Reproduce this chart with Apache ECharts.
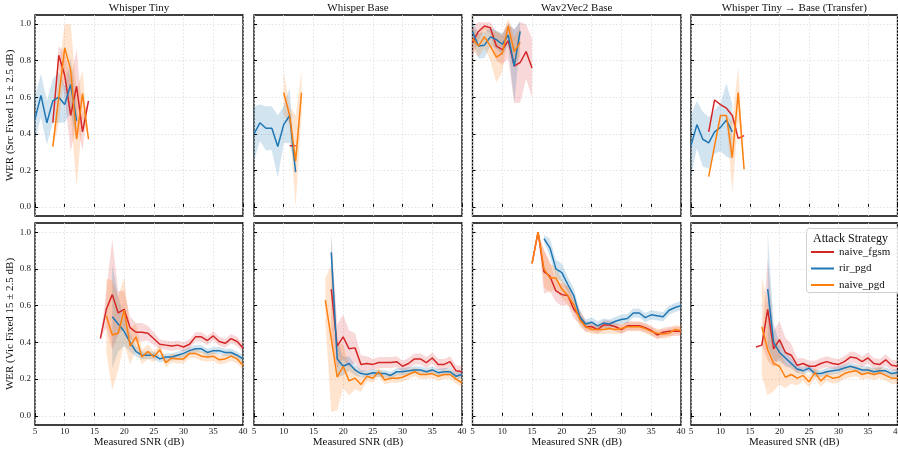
<!DOCTYPE html>
<html><head><meta charset="utf-8">
<script src="https://cdn.jsdelivr.net/npm/echarts@6/dist/echarts.min.js"></script>
<style>html,body{margin:0;padding:0;background:#fff}#c{width:898px;height:450px}</style>
</head><body><div id="c"></div><script>
const FONT = "'Liberation Serif','DejaVu Serif',serif";
const panelTitles = ['Whisper Tiny', 'Whisper Base', 'Wav2Vec2 Base', 'Whisper Tiny \u2192 Base (Transfer)'];
const rowLabels = ['WER (Src Fixed 15 \u00b1 2.5 dB)', 'WER (Vic Fixed 15 \u00b1 2.5 dB)'];
const xAxisTitle = 'Measured SNR (dB)';
const legendTitle = 'Attack Strategy';
const strategies = ['naive_fgsm', 'rir_pgd', 'naive_pgd'];
const colors = ['#d62728', '#1f77b4', '#ff7f0e'];
const yTicks = [0, 0.2, 0.4, 0.6, 0.8, 1.0];
const N = null;

// SNR grid for top row (source fixed) and bottom row (victim fixed)
const snrSrc = [5, 6, 7, 8, 9, 10, 11, 12, 13, 14, 15];
const snrVic = [15, 16, 17, 18, 19, 20, 21, 22, 23, 24, 25, 26, 27, 28, 29, 30, 31, 32, 33, 34, 35, 36, 37, 38, 39, 40];

// ---- Top row: Src fixed ----
// Whisper Tiny
const tinySrcFgsm = [N, N, N, 0.46, 0.83, 0.72, 0.50, 0.66, 0.41, 0.58, N];
const tinySrcFgsmErr = [N, N, N, 0, 0.05, 0.12, 0.2, 0.2, 0.1, 0, N];
const tinySrcRir = [0.48, 0.61, 0.46, 0.58, 0.60, 0.56, 0.67, 0.47, N, N, N];
const tinySrcRirErr = [0.12, 0.12, 0.12, 0.12, 0.14, 0.1, 0.15, 0.1, N, N, N];
const tinySrcPgd = [N, N, N, 0.33, 0.60, 0.87, 0.75, 0.37, 0.62, 0.37, N];
const tinySrcPgdErr = [N, N, N, 0, 0.15, 0.13, 0.25, 0.26, 0.13, 0, N];
// Whisper Base
const baseSrcFgsm = [N, N, N, N, N, N, 0.335, 0.335, N, N, N];
const baseSrcFgsmErr = [N, N, N, N, N, N, 0, 0, N, N, N];
const baseSrcRir = [0.40, 0.46, 0.43, 0.43, 0.33, 0.45, 0.50, 0.19, N, N, N];
const baseSrcRirErr = [0.15, 0.1, 0.12, 0.12, 0.17, 0.1, 0.15, 0, N, N, N];
const baseSrcPgd = [N, N, N, N, N, 0.625, 0.50, 0.25, 0.625, N, N];
const baseSrcPgdErr = [N, N, N, N, N, 0.12, 0.05, 0.25, 0.12, N, N];
// Wav2Vec2 Base
const w2vSrcFgsm = [0.90, 0.96, 0.99, 0.98, 0.88, 0.86, 0.91, 0.77, 0.79, 0.85, 0.76];
const w2vSrcFgsmErr = [0.08, 0.05, 0.02, 0.03, 0.08, 0.08, 0.1, 0.2, 0.22, 0.15, 0.16];
const w2vSrcRir = [0.96, 0.88, 0.885, 0.93, 0.915, 0.89, 0.94, 0.77, 0.96, N, N];
const w2vSrcRirErr = [0.05, 0.07, 0.07, 0.05, 0.05, 0.06, 0.06, 0.2, 0.06, N, N];
const w2vSrcPgd = [0.92, 0.88, 0.93, 0.88, 0.82, 0.84, 0.99, 0.85, 0.90, N, N];
const w2vSrcPgdErr = [0.06, 0.06, 0.06, 0.08, 0.14, 0.1, 0.04, 0.08, 0.08, N, N];
// Transfer
const trSrcFgsm = [N, N, N, 0.41, 0.585, 0.56, 0.54, 0.50, 0.375, 0.39, N];
const trSrcFgsmErr = [N, N, N, 0, 0, 0, 0, 0, 0, 0, N];
const trSrcRir = [0.335, 0.45, 0.37, 0.35, 0.41, 0.435, 0.475, 0.41, N, N, N];
const trSrcRirErr = [0.17, 0.13, 0.15, 0.14, 0.12, 0.13, 0.2, 0.15, N, N, N];
const trSrcPgd = [N, N, N, 0.165, 0.335, 0.50, 0.50, 0.27, 0.625, 0.205, N];
const trSrcPgdErr = [N, N, N, 0, 0, 0, 0, 0.2, 0.14, 0, N];

// ---- Bottom row: Vic fixed ----
const tinyVicFgsm = [N, 0.42, 0.58, 0.66, 0.56, 0.58, 0.48, 0.455, 0.455, 0.45, 0.42, 0.39, 0.385, 0.38, 0.385, 0.375, 0.39, 0.43, 0.43, 0.41, 0.435, 0.405, 0.395, 0.42, 0.405, 0.37];
const tinyVicFgsmErr = [N, 0, 0.1, 0.3, 0.12, 0.1, 0.06, 0.05, 0.05, 0.04, 0.035, 0.025, 0.025, 0.025, 0.025, 0.025, 0.025, 0.025, 0.025, 0.025, 0.025, 0.025, 0.025, 0.025, 0.025, 0.025];
const tinyVicRir = [N, N, N, 0.54, 0.50, 0.46, 0.40, 0.35, 0.33, 0.33, 0.33, 0.31, 0.32, 0.32, 0.33, 0.34, 0.355, 0.365, 0.365, 0.345, 0.355, 0.355, 0.345, 0.345, 0.33, 0.31];
const tinyVicRirErr = [N, N, N, 0.28, 0.15, 0.08, 0.05, 0.03, 0.02, 0.02, 0.02, 0.02, 0.02, 0.02, 0.02, 0.02, 0.02, 0.02, 0.02, 0.02, 0.02, 0.02, 0.02, 0.02, 0.02, 0.02];
const tinyVicPgd = [N, N, 0.545, 0.44, 0.45, 0.575, 0.38, 0.43, 0.32, 0.35, 0.32, 0.36, 0.29, 0.315, 0.31, 0.31, 0.34, 0.34, 0.325, 0.32, 0.325, 0.305, 0.31, 0.325, 0.31, 0.275];
const tinyVicPgdErr = [N, N, 0.2, 0.3, 0.2, 0.18, 0.1, 0.07, 0.04, 0.04, 0.03, 0.025, 0.025, 0.025, 0.025, 0.025, 0.025, 0.025, 0.025, 0.025, 0.025, 0.025, 0.025, 0.025, 0.025, 0.025];

const baseVicFgsm = [N, N, N, 0.69, 0.38, 0.43, 0.365, 0.37, 0.28, 0.285, 0.28, 0.29, 0.29, 0.29, 0.295, 0.27, 0.285, 0.31, 0.31, 0.29, 0.315, 0.28, 0.28, 0.295, 0.245, 0.24];
const baseVicFgsmErr = [N, N, N, 0.3, 0.12, 0.12, 0.1, 0.08, 0.05, 0.04, 0.03, 0.03, 0.03, 0.03, 0.03, 0.03, 0.03, 0.03, 0.03, 0.03, 0.03, 0.03, 0.03, 0.03, 0.03, 0.03];
const baseVicRir = [N, N, N, 0.89, 0.31, 0.27, 0.285, 0.25, 0.23, 0.225, 0.235, 0.23, 0.23, 0.22, 0.24, 0.24, 0.245, 0.25, 0.25, 0.24, 0.25, 0.235, 0.24, 0.24, 0.215, 0.225];
const baseVicRirErr = [N, N, N, 0.1, 0.1, 0.05, 0.04, 0.03, 0.02, 0.02, 0.02, 0.02, 0.02, 0.02, 0.02, 0.02, 0.02, 0.02, 0.02, 0.02, 0.02, 0.02, 0.02, 0.02, 0.02, 0.02];
const baseVicPgd = [N, N, 0.63, 0.42, 0.21, 0.27, 0.19, 0.205, 0.17, 0.215, 0.205, 0.24, 0.195, 0.205, 0.205, 0.21, 0.225, 0.24, 0.225, 0.225, 0.23, 0.215, 0.225, 0.225, 0.20, 0.18];
const baseVicPgdErr = [N, N, 0.12, 0.4, 0.18, 0.12, 0.08, 0.06, 0.04, 0.025, 0.025, 0.025, 0.025, 0.025, 0.025, 0.025, 0.025, 0.025, 0.025, 0.025, 0.025, 0.025, 0.025, 0.025, 0.025, 0.025];

const w2vVicFgsm = [0.83, 1.0, 0.785, 0.76, 0.68, 0.66, 0.655, 0.58, 0.54, 0.485, 0.485, 0.47, 0.495, 0.495, 0.485, 0.47, 0.49, 0.49, 0.49, 0.48, 0.465, 0.44, 0.455, 0.46, 0.46, 0.46];
const w2vVicFgsmErr = [0, 0, 0.12, 0.08, 0.06, 0.06, 0.05, 0.05, 0.04, 0.03, 0.025, 0.025, 0.025, 0.025, 0.025, 0.025, 0.025, 0.025, 0.025, 0.025, 0.025, 0.025, 0.025, 0.025, 0.025, 0.025];
const w2vVicRir = [N, N, 0.965, 0.915, 0.80, 0.78, 0.715, 0.655, 0.54, 0.50, 0.51, 0.49, 0.505, 0.50, 0.515, 0.525, 0.53, 0.56, 0.56, 0.535, 0.55, 0.545, 0.54, 0.575, 0.59, 0.60];
const w2vVicRirErr = [N, N, 0.02, 0.05, 0.05, 0.05, 0.04, 0.04, 0.03, 0.025, 0.025, 0.025, 0.025, 0.025, 0.025, 0.025, 0.025, 0.025, 0.025, 0.025, 0.025, 0.025, 0.025, 0.025, 0.025, 0.025];
const w2vVicPgd = [0.83, 1.0, 0.80, 0.75, 0.75, 0.69, 0.655, 0.605, 0.525, 0.485, 0.47, 0.47, 0.47, 0.475, 0.47, 0.475, 0.485, 0.485, 0.485, 0.475, 0.46, 0.45, 0.445, 0.45, 0.47, 0.465];
const w2vVicPgdErr = [0, 0, 0.1, 0.08, 0.06, 0.05, 0.05, 0.04, 0.04, 0.025, 0.025, 0.025, 0.025, 0.025, 0.025, 0.025, 0.025, 0.025, 0.025, 0.025, 0.025, 0.025, 0.025, 0.025, 0.025, 0.025];

const trVicFgsm = [N, 0.375, 0.385, 0.58, 0.365, 0.415, 0.345, 0.33, 0.275, 0.285, 0.27, 0.27, 0.285, 0.295, 0.285, 0.28, 0.295, 0.32, 0.315, 0.295, 0.315, 0.285, 0.28, 0.305, 0.275, 0.27];
const trVicFgsmErr = [N, 0, 0, 0.28, 0.1, 0.1, 0.08, 0.06, 0.04, 0.03, 0.03, 0.03, 0.03, 0.03, 0.03, 0.03, 0.03, 0.03, 0.03, 0.03, 0.03, 0.03, 0.03, 0.03, 0.03, 0.03];
const trVicRir = [N, N, N, 0.69, 0.40, 0.345, 0.315, 0.285, 0.255, 0.245, 0.26, 0.23, 0.23, 0.24, 0.245, 0.25, 0.26, 0.27, 0.26, 0.25, 0.25, 0.24, 0.245, 0.245, 0.23, 0.235];
const trVicRirErr = [N, N, N, 0.31, 0.1, 0.05, 0.04, 0.03, 0.02, 0.02, 0.02, 0.02, 0.02, 0.02, 0.02, 0.02, 0.02, 0.02, 0.02, 0.02, 0.02, 0.02, 0.02, 0.02, 0.02, 0.02];
const trVicPgd = [N, N, 0.485, 0.36, 0.285, 0.27, 0.21, 0.225, 0.205, 0.22, 0.185, 0.235, 0.19, 0.22, 0.205, 0.21, 0.23, 0.24, 0.245, 0.225, 0.235, 0.225, 0.235, 0.22, 0.205, 0.205];
const trVicPgdErr = [N, N, 0.27, 0.25, 0.15, 0.1, 0.06, 0.05, 0.04, 0.03, 0.03, 0.03, 0.03, 0.03, 0.03, 0.03, 0.03, 0.03, 0.03, 0.03, 0.03, 0.03, 0.03, 0.03, 0.03, 0.03];

const panels = [
  { row: 0, col: 0, snr: snrSrc, vals: [tinySrcFgsm, tinySrcRir, tinySrcPgd], errs: [tinySrcFgsmErr, tinySrcRirErr, tinySrcPgdErr] },
  { row: 0, col: 1, snr: snrSrc, vals: [baseSrcFgsm, baseSrcRir, baseSrcPgd], errs: [baseSrcFgsmErr, baseSrcRirErr, baseSrcPgdErr] },
  { row: 0, col: 2, snr: snrSrc, vals: [w2vSrcFgsm, w2vSrcRir, w2vSrcPgd], errs: [w2vSrcFgsmErr, w2vSrcRirErr, w2vSrcPgdErr] },
  { row: 0, col: 3, snr: snrSrc, vals: [trSrcFgsm, trSrcRir, trSrcPgd], errs: [trSrcFgsmErr, trSrcRirErr, trSrcPgdErr] },
  { row: 1, col: 0, snr: snrVic, vals: [tinyVicFgsm, tinyVicRir, tinyVicPgd], errs: [tinyVicFgsmErr, tinyVicRirErr, tinyVicPgdErr] },
  { row: 1, col: 1, snr: snrVic, vals: [baseVicFgsm, baseVicRir, baseVicPgd], errs: [baseVicFgsmErr, baseVicRirErr, baseVicPgdErr] },
  { row: 1, col: 2, snr: snrVic, vals: [w2vVicFgsm, w2vVicRir, w2vVicPgd], errs: [w2vVicFgsmErr, w2vVicRirErr, w2vVicPgdErr] },
  { row: 1, col: 3, snr: snrVic, vals: [trVicFgsm, trVicRir, trVicPgd], errs: [trVicFgsmErr, trVicRirErr, trVicPgdErr] }
];

const gridLefts = [35, 254, 472.5, 691];
const gridWidths = [208, 208, 208.5, 206.5];
const gridTops = [15, 223];
const gridHeights = [201, 202];
const bandFills = ['rgba(214,39,40,0.18)', 'rgba(31,119,180,0.2)', 'rgba(255,127,14,0.2)'];

const grids = [], xAxes = [], yAxes = [], series = [];
panels.forEach(function (p, gi) {
  grids.push({ left: gridLefts[p.col], top: gridTops[p.row], width: gridWidths[p.col], height: gridHeights[p.row],
    show: true, borderColor: '#000', borderWidth: 1.3, backgroundColor: 'transparent', containLabel: false,
    outerBoundsMode: 'none' });
  xAxes.push({ type: 'value', gridIndex: gi, min: 5, max: 40, interval: 5,
    axisLine: { show: false },
    axisTick: { show: true, inside: true, length: 3, lineStyle: { color: '#000' } },
    axisLabel: { show: p.row === 1, fontFamily: FONT, fontSize: 9, color: '#222', margin: 2, showMinLabel: true, showMaxLabel: true },
    splitLine: { show: true, lineStyle: { color: '#dcdcdc', type: [1.5, 2], width: 0.8 } },
    name: p.row === 1 ? xAxisTitle : '', nameLocation: 'middle', nameGap: 12,
    nameTextStyle: { fontFamily: FONT, fontSize: 11, color: '#111' } });
  yAxes.push({ type: 'value', gridIndex: gi, min: -0.05, max: 1.05,
    axisLine: { show: false },
    axisTick: { show: true, inside: true, length: 3, customValues: yTicks, lineStyle: { color: '#000' } },
    axisLabel: { show: p.col === 0, customValues: yTicks, fontFamily: FONT, fontSize: 9, color: '#222', margin: 4,
      formatter: function (v) { return v.toFixed(1); } },
    splitLine: { show: true, lineStyle: { color: '#dcdcdc', type: [1.5, 2], width: 0.8 } },
    name: p.col === 0 ? rowLabels[p.row] : '', nameLocation: 'middle', nameGap: 14, nameRotate: 90,
    nameTextStyle: { fontFamily: FONT, fontSize: 11, color: '#111' } });
  for (let s = 0; s < 3; s++) {
    const ys = p.vals[s], es = p.errs[s], xs = p.snr;
    let first = ys.findIndex(function (v) { return v != null; });
    series.push({ type: 'custom', xAxisIndex: gi, yAxisIndex: gi, silent: true, z: 1,
      data: [[xs[first], ys[first]]],
      renderItem: (function (xs, ys, es, fill) {
        return function (params, api) {
          const up = [], lo = [];
          for (let i = 0; i < xs.length; i++) {
            if (ys[i] == null) continue;
            up.push(api.coord([xs[i], ys[i] + es[i]]));
            lo.push(api.coord([xs[i], ys[i] - es[i]]));
          }
          return { type: 'polygon', shape: { points: up.concat(lo.reverse()) }, style: { fill: fill } };
        };
      })(xs, ys, es, bandFills[s]) });
    series.push({ type: 'line', name: strategies[s], xAxisIndex: gi, yAxisIndex: gi, z: 3,
      data: xs.map(function (x, i) { return [x, ys[i]]; }),
      showSymbol: false, symbol: 'none', connectNulls: false,
      lineStyle: { color: colors[s], width: 1.5 }, itemStyle: { color: colors[s] } });
  }
});

const graphics = [];
panelTitles.forEach(function (t, c) {
  graphics.push({ type: 'text', x: gridLefts[c] + gridWidths[c] / 2, y: 8.5,
    style: { text: t, font: '11px ' + FONT, fill: '#111', textAlign: 'center', textVerticalAlign: 'middle' } });
});
graphics.push({ type: 'rect', z: 5, shape: { x: 806.5, y: 228.5, width: 96, height: 64, r: 3 },
  style: { fill: 'rgba(255,255,255,0.85)', stroke: '#cfcfcf', lineWidth: 1 } });
graphics.push({ type: 'text', z: 6, x: 850.5, y: 238.5,
  style: { text: legendTitle, font: '12px ' + FONT, fill: '#111', textAlign: 'center', textVerticalAlign: 'middle' } });

const chart = echarts.init(document.getElementById('c'), null, { renderer: 'canvas' });
chart.setOption({
  animation: false,
  backgroundColor: '#fff',
  grid: grids, xAxis: xAxes, yAxis: yAxes, series: series,
  graphic: graphics,
  legend: { data: strategies, orient: 'vertical', left: 811, top: 246, z: 10,
    icon: 'rect', itemWidth: 23, itemHeight: 2, itemGap: 4.5, padding: 0,
    textStyle: { fontFamily: FONT, fontSize: 11, color: '#111', lineHeight: 12 } }
});
</script></body></html>
